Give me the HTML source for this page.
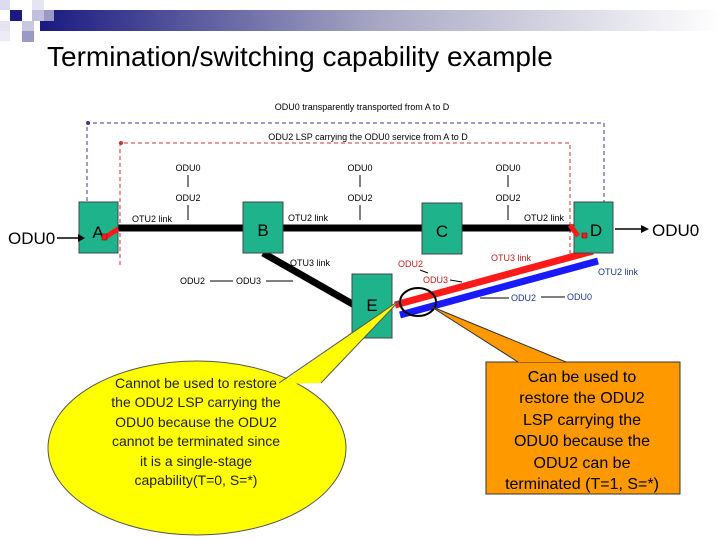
<!DOCTYPE html>
<html><head><meta charset="utf-8"><style>
html,body{margin:0;padding:0;background:#fff;}
svg{display:block;font-family:"Liberation Sans",sans-serif;}
</style></head><body>
<svg width="720" height="540" viewBox="0 0 720 540" xmlns="http://www.w3.org/2000/svg">
<defs>
<linearGradient id="g" x1="0" x2="1" y1="0" y2="0">
<stop offset="0" stop-color="#1a1a80"/><stop offset="0.5" stop-color="#a8a8c4"/><stop offset="1" stop-color="#ffffff"/>
</linearGradient>
</defs>
<rect x="40" y="10" width="680" height="21" fill="url(#g)"/>
<rect x="0" y="0" width="10" height="10" fill="#dcdcf0"/>
<rect x="32" y="0" width="12" height="10" fill="#e4e4f2"/>
<rect x="10" y="10" width="12" height="11" fill="#1a1a80"/>
<rect x="32" y="10" width="12" height="11" fill="#c0c0dc"/>
<rect x="44" y="10" width="10" height="11" fill="#9a9ac4"/>
<rect x="0" y="21" width="10" height="10" fill="#e4e4f2"/>
<rect x="22" y="21" width="12" height="10" fill="#c8c8e0"/>
<rect x="22" y="31" width="12" height="11" fill="#9a9ac8"/>
<rect x="0" y="31" width="10" height="10" fill="#ececf6"/>
<text x="47" y="66" font-size="28" fill="#000">Termination/switching capability example</text>

<polyline points="87,243 87,123 604,123 604,240" fill="none" stroke="#3a3a9a" stroke-width="1" stroke-dasharray="4,3"/>
<circle cx="88" cy="123" r="2" fill="#3a3a9a"/>
<text x="362" y="110" font-size="9" text-anchor="middle">ODU0 transparently transported from A to D</text>
<polyline points="120,265 120,143 570,143 570,256" fill="none" stroke="#d03030" stroke-width="1" stroke-dasharray="4,3"/>
<circle cx="121" cy="143" r="2" fill="#d03030"/>
<text x="368" y="140" font-size="9" text-anchor="middle">ODU2 LSP carrying the ODU0 service from A to D</text>

<line x1="118" y1="228" x2="574" y2="228" stroke="#000" stroke-width="7"/>
<line x1="263" y1="253" x2="356" y2="306" stroke="#000" stroke-width="7"/>
<line x1="395" y1="305" x2="593" y2="251" stroke="#ff1a1a" stroke-width="7"/>
<line x1="400" y1="315" x2="598" y2="261" stroke="#1a1aff" stroke-width="7"/>

<rect x="79" y="202" width="39" height="51" fill="#1fb38c" stroke="#444" stroke-width="1"/>
<rect x="243" y="202" width="40" height="51" fill="#1fb38c" stroke="#444" stroke-width="1"/>
<rect x="422" y="203" width="40" height="51" fill="#1fb38c" stroke="#444" stroke-width="1"/>
<rect x="574" y="202" width="39" height="51" fill="#1fb38c" stroke="#444" stroke-width="1"/>
<rect x="352" y="274" width="40" height="64" fill="#1fb38c" stroke="#444" stroke-width="1"/>
<text x="98" y="238" font-size="17" text-anchor="middle">A</text>
<text x="263" y="236" font-size="17" text-anchor="middle">B</text>
<text x="442" y="237" font-size="17" text-anchor="middle">C</text>
<text x="596" y="236" font-size="17" text-anchor="middle">D</text>
<text x="372" y="311" font-size="17" text-anchor="middle">E</text>
<line x1="104" y1="238" x2="118" y2="229" stroke="#ff1a1a" stroke-width="5"/>
<rect x="102" y="234" width="5" height="6" fill="#ff1a1a" stroke="#600" stroke-width="0.5"/>
<line x1="570" y1="225" x2="578" y2="236" stroke="#ff1a1a" stroke-width="5"/>
<rect x="582" y="233" width="5" height="5" fill="#ff1a1a" stroke="#600" stroke-width="0.5"/>
<ellipse cx="418" cy="302" rx="18" ry="14" fill="none" stroke="#000" stroke-width="2"/>

<text x="8" y="244" font-size="17">ODU0</text>
<line x1="57" y1="238" x2="80" y2="238" stroke="#000" stroke-width="1.5"/>
<polygon points="85,238 78,234 78,242" fill="#000"/>
<line x1="615" y1="229" x2="642" y2="229" stroke="#000" stroke-width="1.5"/>
<polygon points="649,229 641,225 641,233" fill="#000"/>
<text x="652" y="236" font-size="17">ODU0</text>

<g font-size="9" text-anchor="middle">
<text x="188" y="171">ODU0</text><line x1="188" y1="175" x2="188" y2="187" stroke="#000"/>
<text x="188" y="201">ODU2</text><line x1="188" y1="205" x2="188" y2="220" stroke="#000"/>
<text x="360" y="171">ODU0</text><line x1="360" y1="175" x2="360" y2="187" stroke="#000"/>
<text x="360" y="201">ODU2</text><line x1="360" y1="205" x2="360" y2="220" stroke="#000"/>
<text x="508" y="171">ODU0</text><line x1="508" y1="175" x2="508" y2="187" stroke="#000"/>
<text x="508" y="201">ODU2</text><line x1="508" y1="205" x2="508" y2="220" stroke="#000"/>
</g>
<g font-size="9">
<text x="132" y="222">OTU2 link</text>
<text x="288" y="221">OTU2 link</text>
<text x="524" y="221">OTU2 link</text>
<text x="290" y="266">OTU3 link</text>
<text x="180" y="284">ODU2</text><line x1="210" y1="281" x2="233" y2="281" stroke="#000"/>
<text x="236" y="284">ODU3</text><line x1="266" y1="281" x2="293" y2="281" stroke="#000"/>
<text x="398" y="267" fill="#c02020">ODU2</text>
<line x1="420" y1="270" x2="428" y2="273" stroke="#000"/>
<text x="423" y="283" fill="#c02020">ODU3</text>
<line x1="450" y1="280" x2="462" y2="282" stroke="#000"/>
<text x="491" y="261" fill="#c02020">OTU3 link</text>
<text x="598" y="275" fill="#1a3a8a">OTU2 link</text>
<line x1="480" y1="298" x2="509" y2="298" stroke="#000"/>
<text x="511" y="301" fill="#1a3a8a">ODU2</text><line x1="541" y1="297" x2="565" y2="297" stroke="#000"/>
<text x="567" y="300" fill="#1a3a8a">ODU0</text>
</g>

<ellipse cx="197" cy="448" rx="149" ry="87" fill="#ffff00" stroke="#555" stroke-width="1"/>
<polygon points="400,300 279,384 321,383" fill="#ffff00"/>
<line x1="400" y1="300" x2="279" y2="383" stroke="#555"/>
<line x1="400" y1="300" x2="321" y2="383" stroke="#555"/>
<g font-size="14" text-anchor="middle" fill="#222">
<text x="196" y="388">Cannot be used to restore</text>
<text x="196" y="407">the ODU2 LSP carrying the</text>
<text x="196" y="427">ODU0 because the ODU2</text>
<text x="196" y="446">cannot be terminated since</text>
<text x="196" y="466">it is a single-stage</text>
<text x="196" y="485">capability(T=0, S=*)</text>
</g>

<rect x="486" y="362" width="194" height="132" fill="#ff9900" stroke="#333" stroke-width="1"/>
<polygon points="430,306 518,362 566,362" fill="#ff9900"/>
<line x1="430" y1="306" x2="518" y2="362" stroke="#333"/>
<line x1="430" y1="306" x2="566" y2="362" stroke="#333"/>
<g font-size="16" text-anchor="middle" fill="#000">
<text x="582" y="382">Can be used to</text>
<text x="582" y="403">restore the ODU2</text>
<text x="582" y="425">LSP carrying the</text>
<text x="582" y="446">ODU0 because the</text>
<text x="582" y="468">ODU2 can be</text>
<text x="582" y="489">terminated (T=1, S=*)</text>
</g>
</svg>
</body></html>
